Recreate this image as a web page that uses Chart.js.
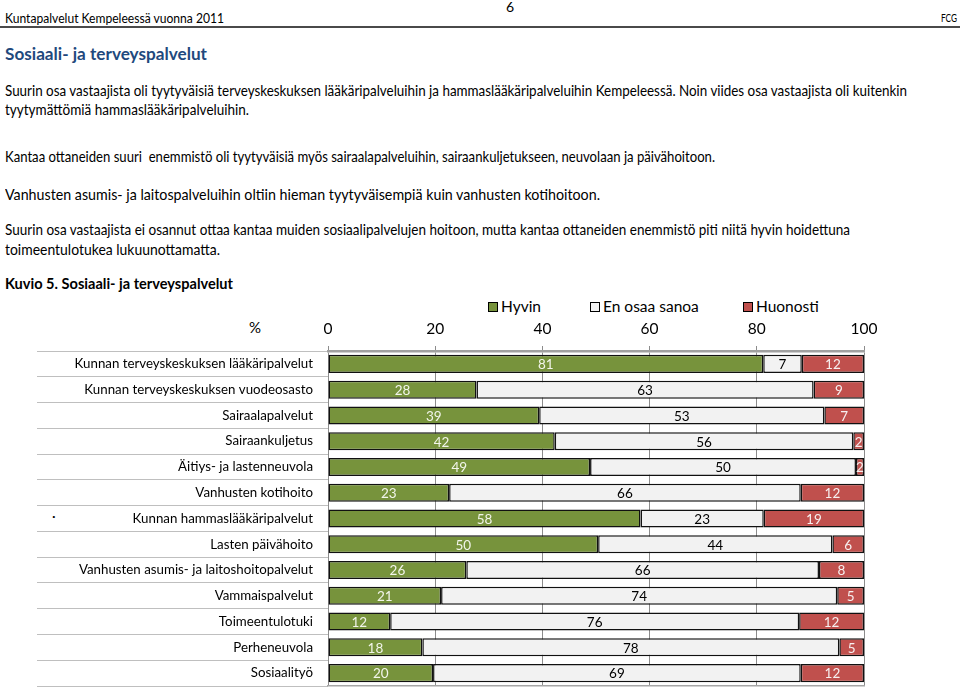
<!DOCTYPE html>
<html>
<head>
<meta charset="utf-8">
<script src="https://cdn.jsdelivr.net/npm/chart.js@4.4.1/dist/chart.umd.min.js"></script>
<style>
  body { margin: 0; width: 960px; height: 688px; overflow: hidden; background: #fff; font-family: Lato, sans-serif; position: relative; }
  .t { position: absolute; left: 5px; white-space: nowrap; color: #000; transform-origin: 0 50%; }
  .leg { position: absolute; top: 297px; font-size: 15.5px; line-height: 18px; white-space: nowrap; }
  .leg i { display: inline-block; width: 8px; height: 8px; border: 1px solid #000; margin-right: 3px; vertical-align: 0px; }
  #kaavio { position: absolute; left: 0; top: 295px; }
</style>
</head>
<body>
<div class="t" data-w="219" style="top:11px;font-size:12.5px;line-height:15px">Kuntapalvelut Kempeleessä vuonna 2011</div>
<div class="t" style="left:506px;top:-2px;font-size:14px;line-height:17px">6</div>
<div class="t" data-w="16" style="left:941px;top:12px;font-size:10.5px;line-height:13px">FCG</div>
<div style="position:absolute;left:0;top:26px;width:960px;height:2px;background:#4a4a4a"></div>

<div class="t" data-w="202" style="top:43px;font-size:17.5px;line-height:21px;font-weight:bold;color:#1F497D">Sosiaali- ja terveyspalvelut</div>

<div class="t" data-w="902" style="top:81px;font-size:14.7px;line-height:18px">Suurin osa vastaajista oli tyytyväisiä terveyskeskuksen lääkäripalveluihin ja hammaslääkäripalveluihin Kempeleessä. Noin viides osa vastaajista oli kuitenkin</div>
<div class="t" data-w="244" style="top:100px;font-size:14.7px;line-height:18px">tyytymättömiä hammaslääkäripalveluihin.</div>
<div class="t" data-w="710" style="top:147px;font-size:14.7px;line-height:18px">Kantaa ottaneiden suuri&nbsp; enemmistö oli tyytyväisiä myös sairaalapalveluihin, sairaankuljetukseen, neuvolaan ja päivähoitoon.</div>
<div class="t" data-w="595" style="top:185px;font-size:14.7px;line-height:18px">Vanhusten asumis- ja laitospalveluihin oltiin hieman tyytyväisempiä kuin vanhusten kotihoitoon.</div>
<div class="t" data-w="845" style="top:220px;font-size:14.7px;line-height:18px">Suurin osa vastaajista ei osannut ottaa kantaa muiden sosiaalipalvelujen hoitoon, mutta kantaa ottaneiden enemmistö piti niitä hyvin hoidettuna</div>
<div class="t" data-w="215" style="top:240px;font-size:14.7px;line-height:18px">toimeentulotukea lukuunottamatta.</div>
<div class="t" data-w="228" style="top:274px;font-size:14.7px;line-height:18px;font-weight:bold">Kuvio 5. Sosiaali- ja terveyspalvelut</div>

<div class="leg" style="left:488px"><i style="background:#77933C"></i>Hyvin</div>
<div class="leg" style="left:590px"><i style="background:#F2F2F2"></i>En osaa sanoa</div>
<div class="leg" style="left:743px"><i style="background:#C0504D"></i>Huonosti</div>
<div class="t" style="left:249px;top:318px;font-size:15px;line-height:18px">%</div>
<div class="t" style="left:52px;top:507px;font-size:14px;line-height:18px">·</div>

<canvas id="kaavio" width="960" height="393"></canvas>

<script>
// palvelut (ylhäältä alas)
const palvelut = [
  'Kunnan terveyskeskuksen lääkäripalvelut',
  'Kunnan terveyskeskuksen vuodeosasto',
  'Sairaalapalvelut',
  'Sairaankuljetus',
  'Äitiys- ja lastenneuvola',
  'Vanhusten kotihoito',
  'Kunnan hammaslääkäripalvelut',
  'Lasten päivähoito',
  'Vanhusten asumis- ja laitoshoitopalvelut',
  'Vammaispalvelut',
  'Toimeentulotuki',
  'Perheneuvola',
  'Sosiaalityö'
];
// osuudet %, luettu pylväiden rajoista (näytetään pyöristettyinä)
const hyvin    = [81.2, 27.7, 39.4, 42.3, 48.9, 22.6, 58.3, 50.4, 25.8, 21.1, 11.6, 17.6, 19.6];
const enOsaa   = [ 7.2, 62.9, 53.2, 55.7, 49.6, 65.6, 23.0, 43.7, 65.8, 73.9, 76.3, 77.8, 68.6];
const huonosti = [11.6,  9.4,  7.4,  2.0,  1.5, 11.8, 18.7,  5.9,  8.4,  5.0, 12.1,  4.6, 11.8];
const asteikko = [0, 20, 40, 60, 80, 100];

const tekstiVarit = ['#F2F5EA', '#000000', '#F7F0F0'];

// sovitetaan tekstirivit alkuperäiseen leveyteen
document.querySelectorAll('.t[data-w]').forEach(el => {
  const w = el.getBoundingClientRect().width;
  el.style.transform = 'scaleX(' + (parseFloat(el.dataset.w) / w) + ')';
});

const etiketit = {
  id: 'etiketit',
  afterDatasetsDraw(chart) {
    const ctx = chart.ctx;
    ctx.save();
    ctx.font = '13.5px Lato';
    ctx.textAlign = 'center';
    ctx.textBaseline = 'middle';
    chart.data.datasets.forEach((ds, i) => {
      chart.getDatasetMeta(i).data.forEach((bar, j) => {
        const p = bar.getProps(['x', 'y', 'base'], true);
        ctx.fillStyle = tekstiVarit[i];
        ctx.fillText(Math.round(ds.data[j]), (p.x + p.base) / 2, p.y + 1);
      });
    });
    ctx.restore();
  }
};

new Chart(document.getElementById('kaavio'), {
  type: 'bar',
  data: {
    labels: palvelut,
    datasets: [
      { label: 'Hyvin', data: hyvin, backgroundColor: '#77933C' },
      { label: 'En osaa sanoa', data: enOsaa, backgroundColor: '#F2F2F2' },
      { label: 'Huonosti', data: huonosti, backgroundColor: '#C0504D' }
    ].map(d => Object.assign(d, {
      borderColor: '#111', borderWidth: 1.5, borderSkipped: false,
      barPercentage: 0.7, categoryPercentage: 1
    }))
  },
  options: {
    indexAxis: 'y',
    responsive: false,
    animation: false,
    layout: { padding: { left: 37, right: 96, top: 0, bottom: 2 } },
    plugins: { legend: { display: false }, tooltip: { enabled: false } },
    scales: {
      x: {
        position: 'top', stacked: true, min: 0, max: 100,
        afterBuildTicks: s => { s.ticks = asteikko.map(v => ({ value: v })); },
        afterFit: s => { s.height = 56; },
        ticks: { padding: 8, color: '#000', font: { family: 'Lato', size: 15.5 } },
        grid: { color: '#8C8C8C', tickLength: 5 },
        border: { color: '#A0A0A0', width: 2.5 }
      },
      xb: {
        axis: 'x', position: 'bottom', min: 0, max: 100,
        afterFit: s => { s.height = 0; },
        ticks: { display: false },
        grid: { display: false },
        border: { color: '#A6A6A6', width: 1.5 }
      },
      y: {
        stacked: true,
        afterFit: s => { s.width = 291; },
        ticks: { padding: -276, color: '#000', font: { family: 'Lato', size: 13.3 } },
        grid: { offset: true, drawOnChartArea: false, tickLength: 291, color: '#BFBFBF' },
        border: { display: false }
      }
    }
  },
  plugins: [etiketit]
});
</script>
</body>
</html>
